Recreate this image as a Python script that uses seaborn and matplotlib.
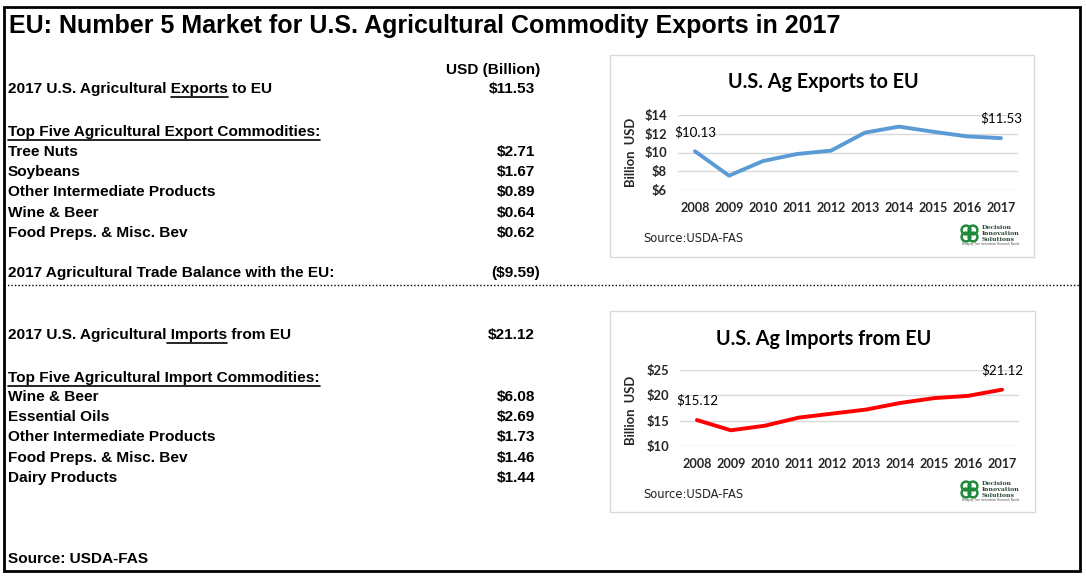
import matplotlib
matplotlib.use("Agg")
import matplotlib.pyplot as plt
import seaborn as sns
import pandas as pd
from matplotlib.patches import Rectangle, Circle
from matplotlib.lines import Line2D

# ---------------- data ----------------
years = [2008, 2009, 2010, 2011, 2012, 2013, 2014, 2015, 2016, 2017]
exports_to_eu = [10.13, 7.53, 9.09, 9.84, 10.20, 12.12, 12.76, 12.22, 11.72, 11.53]
imports_from_eu = [15.12, 13.10, 14.00, 15.60, 16.40, 17.20, 18.50, 19.45, 19.90, 21.12]
export_ticks = [6, 8, 10, 12, 14]
import_ticks = [10, 15, 20, 25]

export_items = ["Tree Nuts", "Soybeans", "Other Intermediate Products",
                "Wine & Beer", "Food Preps. & Misc. Bev"]
export_values = ["$2.71", "$1.67", "$0.89", "$0.64", "$0.62"]
import_items = ["Wine & Beer", "Essential Oils", "Other Intermediate Products",
                "Food Preps. & Misc. Bev", "Dairy Products"]
import_values = ["$6.08", "$2.69", "$1.73", "$1.46", "$1.44"]
total_exports = "$11.53"
total_imports = "$21.12"
trade_balance = "($9.59)"

title = "EU: Number 5 Market for U.S. Agricultural Commodity Exports in 2017"

# ---------------- figure ----------------
sns.set_theme(style="white")
plt.rcParams['font.family'] = ['Liberation Sans', 'DejaVu Sans']
W, H = 1086, 576
fig = plt.figure(figsize=(W / 100, H / 100), dpi=100)
fig.patch.set_facecolor("white")
bg = fig.add_axes([0, 0, 1, 1])
bg.set_xlim(0, W)
bg.set_ylim(H, 0)
bg.axis("off")


def rect(x0, y0, x1, y1):
    return [x0 / W, 1 - y1 / H, (x1 - x0) / W, (y1 - y0) / H]


# outer frame and divider
bg.add_patch(Rectangle((4, 7), 1076, 564, fill=False, lw=2, ec="black", zorder=5))
bg.add_line(Line2D([4, 1080], [285, 285], color="black", lw=1, ls=(0, (1, 1.5))))

# title
bg.text(9, 26, title, fontsize=18.0, fontweight="bold", va="center", ha="left",
        color="black")

TF = dict(fontsize=11.1, fontweight="bold", va="center", color="black")
VX = 535
renderer = fig.canvas.get_renderer()


def ext(t):
    bb = t.get_window_extent(renderer)
    return bb.x0, bb.x1


def underline(x0, x1, y):
    bg.add_line(Line2D([x0, x1], [y + 8, y + 8], color="black", lw=1.2))


bg.text(540, 70, "USD (Billion)", ha="right", **TF)

# exports block
t = bg.text(8, 89, "2017 U.S. Agricultural Exports to EU", ha="left", **TF)
tmp = bg.text(8, 89, "2017 U.S. Agricultural Exports", ha="left", **TF)
tmp2 = bg.text(8, 89, "Exports", ha="left", **TF)
x0a, x1a = ext(tmp)
w = ext(tmp2)[1] - ext(tmp2)[0]
tmp.remove(); tmp2.remove()
underline(x1a - w, x1a, 89)
bg.text(VX, 89, total_exports, ha="right", **TF)

t = bg.text(8, 132, "Top Five Agricultural Export Commodities:", ha="left", **TF)
a, b = ext(t)
underline(a, b, 132)
for i, (name, val) in enumerate(zip(export_items, export_values)):
    y = 152 + i * 20.2
    bg.text(8, y, name, ha="left", **TF)
    bg.text(VX, y, val, ha="right", **TF)

bg.text(8, 273, "2017 Agricultural Trade Balance with the EU:", ha="left", **TF)
bg.text(540, 273, trade_balance, ha="right", **TF)

# imports block
bg.text(8, 335, "2017 U.S. Agricultural Imports from EU", ha="left", **TF)
tmp = bg.text(8, 335, "2017 U.S. Agricultural", ha="left", **TF)
tmp2 = bg.text(8, 335, "2017 U.S. Agricultural Imports", ha="left", **TF)
xa = ext(tmp)[1]
xb = ext(tmp2)[1]
tmp.remove(); tmp2.remove()
underline(xa, xb, 335)
bg.text(VX, 335, total_imports, ha="right", **TF)

t = bg.text(8, 378, "Top Five Agricultural Import Commodities:", ha="left", **TF)
a, b = ext(t)
underline(a, b, 378)
for i, (name, val) in enumerate(zip(import_items, import_values)):
    y = 397 + i * 20.2
    bg.text(8, y, name, ha="left", **TF)
    bg.text(VX, y, val, ha="right", **TF)

bg.text(8, 559, "Source: USDA-FAS", ha="left", **TF)

# ---------------- charts ----------------
CF = ['Lato', 'DejaVu Sans']


def logo(x, y):
    g = "#1f8a3a"
    for dx, dy in [(0, 0), (7, 0), (0, 7), (7, 7)]:
        bg.add_patch(Circle((x + dx, y + dy), 4.4, fill=False, ec=g, lw=1.8))
    bg.text(x + 16, y + 3.5, "Decision\nInnovation\nSolutions", fontsize=4.5,
            family="DejaVu Serif", fontweight="bold", color="#2e4d36",
            va="center", ha="left", linespacing=1.15)
    bg.text(x - 4, y + 14, "Bridging Your Information Research Needs", fontsize=2.2,
            color="#555555", va="center", ha="left")


def chart(box, plot_px, values, ticks, color, title_txt, title_y, ylab_y,
          src_y, logo_y):
    bx0, by0, bx1, by1 = box
    bg.add_patch(Rectangle((bx0, by0), bx1 - bx0, by1 - by0, fc="white",
                           ec="#d9d9d9", lw=1, zorder=1))
    ax = fig.add_axes(rect(*plot_px))
    ax.set_facecolor("none")
    df = pd.DataFrame({"year": years, "value": values})
    sns.lineplot(data=df, x="year", y="value", ax=ax, color=color, lw=2.8,
                 zorder=3)
    ax.set_xlim(years[0] - 0.5, years[-1] + 0.5)
    ax.set_ylim(ticks[0], ticks[-1])
    ax.set_xticks(years)
    ax.set_xticklabels([str(y) for y in years], fontsize=9.1, fontweight="bold",
                       family=CF)
    ax.set_yticks(ticks)
    ax.set_yticklabels([f"${v}" for v in ticks], fontsize=9.4, fontweight="bold",
                       family=CF)
    ax.tick_params(axis="x", length=0, pad=9)
    ax.tick_params(axis="y", length=0, pad=8)
    ax.grid(axis="y", color="#d9d9d9", lw=1)
    ax.grid(axis="x", visible=False)
    for s in ax.spines.values():
        s.set_visible(False)
    ax.set_xlabel("")
    ax.set_ylabel("")
    for idx in (0, len(years) - 1):
        ax.annotate(f"${values[idx]:.2f}", (years[idx], values[idx]),
                    xytext=(0, 14), textcoords="offset points", ha="center",
                    va="center", fontsize=9.6, family=CF, color="black")
    cx = (bx0 + bx1) / 2
    bg.text(cx + 1, title_y, title_txt, fontsize=14.2, fontweight="bold",
            family=CF, ha="center", va="center", color="black")
    bg.text(631, ylab_y, "Billion  USD", rotation=90, fontsize=9.4,
            fontweight="bold", family=CF, ha="center", va="center")
    bg.text(643, src_y, "Source:USDA-FAS", fontsize=8.3, family="DejaVu Sans",
            ha="left", va="center", color="#222222")
    logo(966, logo_y)
    return ax


chart((610, 55, 1034, 257), (678, 115, 1018, 190), exports_to_eu, export_ticks,
      "#5b9bd5", "U.S. Ag Exports to EU", 82, 152, 238, 230)
chart((610, 311, 1035, 512), (680, 370, 1019, 446), imports_from_eu, import_ticks,
      "#ff0000", "U.S. Ag Imports from EU", 339, 410, 494, 486)

fig.savefig("out.png", dpi=100, facecolor="white")
